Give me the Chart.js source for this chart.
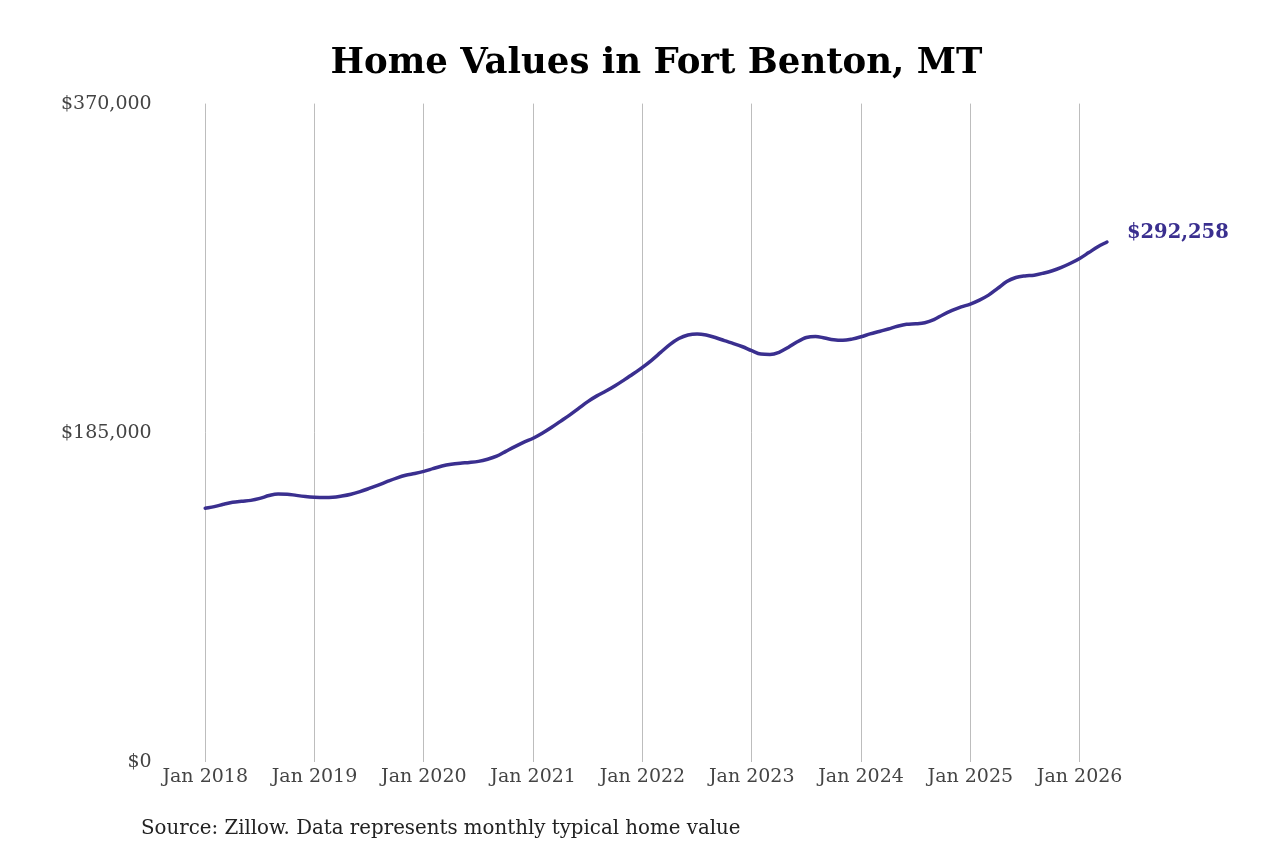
<!DOCTYPE html>
<html>
<head>
<meta charset="utf-8">
<script src="https://cdn.jsdelivr.net/npm/chart.js@4"></script>
<style>
  html, body { margin: 0; padding: 0; background: #fff; }
  #wrap { position: relative; width: 1280px; height: 853px; }
  #source {
    position: absolute; left: 141px; top: 816px;
    font-family: 'DejaVu Serif', serif; font-size: 19.8px; color: #222;
  }
</style>
</head>
<body>
<div id="wrap">
  <canvas id="chart" width="1280" height="853"></canvas>
  <div id="source">Source: Zillow. Data represents monthly typical home value</div>
</div>
<script>
// Monthly typical home value, Jan 2018 - Apr 2026
const values2018 = [142700, 143600, 144900, 146000, 146600, 147100, 148200, 149800, 150700, 150600, 149900, 149300];
const values2019 = [148900, 148700, 148800, 149500, 150500, 152000, 153800, 155700, 157700, 159600, 161200, 162200];
const values2020 = [163400, 164900, 166400, 167400, 168000, 168400, 169000, 170200, 171900, 174600, 177300, 179800];
const values2021 = [182000, 184800, 188000, 191500, 195000, 198800, 202600, 205800, 208500, 211500, 214800, 218200];
const values2022 = [221800, 225800, 230200, 234600, 238000, 240000, 240600, 240000, 238600, 236800, 235200, 233400];
const values2023 = [231200, 229300, 229100, 230300, 233000, 236200, 238600, 239200, 238300, 237300, 237000, 237700];
const values2024 = [239000, 240600, 242000, 243400, 244900, 246000, 246300, 246900, 248600, 251400, 253800, 255800];
const values2025 = [257400, 259600, 262400, 266200, 270000, 272300, 273200, 273600, 274700, 276100, 278000, 280300];
const values2026 = [283000, 286300, 289600, 292258];

const homeValues = [].concat(values2018, values2019, values2020, values2021,
  values2022, values2023, values2024, values2025, values2026);

const xTickLabels = ['Jan 2018', 'Jan 2019', 'Jan 2020', 'Jan 2021', 'Jan 2022',
  'Jan 2023', 'Jan 2024', 'Jan 2025', 'Jan 2026'];
const yTicks = [0, 185000, 370000];

const lineColor = '#3a2f8f';

// label at the end of the line
const endLabel = {
  id: 'endLabel',
  afterDatasetsDraw(chart) {
    const meta = chart.getDatasetMeta(0);
    const last = meta.data[meta.data.length - 1];
    const v = homeValues[homeValues.length - 1];
    const ctx = chart.ctx;
    ctx.save();
    ctx.font = 'bold 19.5px "DejaVu Serif", serif';
    ctx.fillStyle = lineColor;
    ctx.textAlign = 'left';
    ctx.textBaseline = 'middle';
    ctx.fillText('$' + v.toLocaleString('en-US'), last.x + 20, last.y - 9);
    ctx.restore();
  }
};

new Chart(document.getElementById('chart'), {
  type: 'line',
  data: {
    datasets: [{
      data: homeValues.map((v, i) => ({ x: i, y: v })),
      borderColor: lineColor,
      borderWidth: 3.5,
      pointRadius: 0,
      tension: 0.4,
      cubicInterpolationMode: 'monotone',
      borderCapStyle: 'round',
      fill: false
    }]
  },
  options: {
    responsive: false,
    animation: false,
    layout: { padding: { left: 53, right: 20, top: 10, bottom: 62 } },
    plugins: {
      legend: { display: false },
      tooltip: { enabled: false },
      title: {
        display: true,
        text: 'Home Values in Fort Benton, MT',
        color: '#000',
        font: { family: 'DejaVu Serif', size: 35.5, weight: 'bold' },
        padding: { top: 32, bottom: 19 }
      }
    },
    scales: {
      x: {
        type: 'linear',
        min: -5,
        max: 115.8,
        border: { display: false },
        grid: { color: '#bdbdbd', lineWidth: 1, drawTicks: false },
        afterBuildTicks(axis) {
          axis.ticks = xTickLabels.map((_, i) => ({ value: i * 12 }));
        },
        ticks: {
          autoSkip: false,
          maxRotation: 0,
          padding: 3,
          color: '#444',
          font: { family: 'DejaVu Serif', size: 19 },
          callback: (value) => xTickLabels[value / 12]
        }
      },
      y: {
        min: 0,
        max: 370000,
        border: { display: false },
        grid: { display: false, drawTicks: false },
        afterBuildTicks(axis) {
          axis.ticks = yTicks.map(v => ({ value: v }));
        },
        ticks: {
          padding: 8,
          color: '#444',
          font: { family: 'DejaVu Serif', size: 19 },
          callback: (value) => '$' + value.toLocaleString('en-US')
        }
      }
    }
  },
  plugins: [endLabel]
});
</script>
</body>
</html>
